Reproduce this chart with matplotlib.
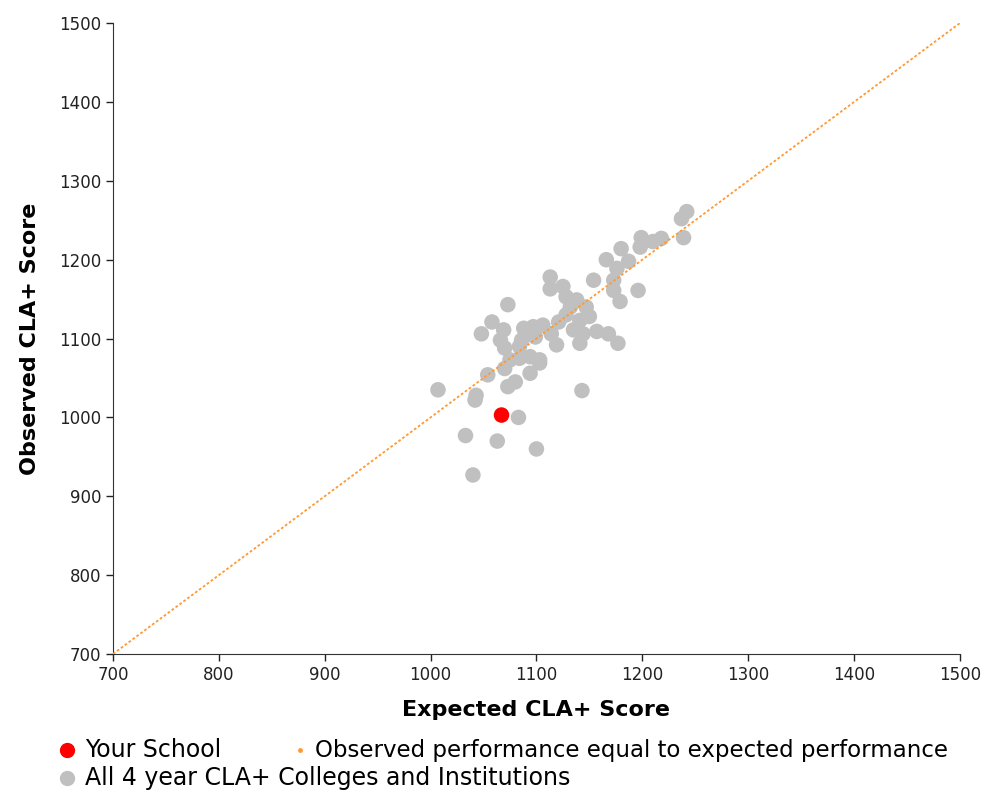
import numpy as np
import matplotlib.pyplot as plt
from matplotlib.lines import Line2D

# expected vs observed CLA+ scores
expected = [1242, 1237, 1239, 1199, 1198, 1218, 1210, 1180, 1166, 1187,
            1176, 1154, 1173, 1173, 1179, 1196, 1113, 1113, 1125, 1128,
            1138, 1132, 1147, 1150, 1141, 1128, 1073, 1058, 1048, 1069,
            1066, 1070, 1088, 1097, 1106, 1086, 1099, 1114, 1121, 1119,
            1141, 1144, 1157, 1168, 1177, 1135, 1084, 1075, 1084, 1094,
            1103, 1070, 1094, 1103, 1054, 1073, 1080, 1007, 1043, 1042,
            1143, 1083, 1033, 1063, 1100, 1040]
observed = [1261, 1252, 1228, 1228, 1216, 1227, 1223, 1214, 1200, 1198,
            1189, 1174, 1174, 1161, 1147, 1161, 1178, 1163, 1166, 1153,
            1149, 1140, 1140, 1128, 1123, 1130, 1143, 1121, 1106, 1111,
            1098, 1088, 1113, 1115, 1117, 1098, 1102, 1106, 1121, 1092,
            1094, 1106, 1109, 1106, 1094, 1111, 1090, 1073, 1075, 1077,
            1073, 1062, 1056, 1069, 1054, 1039, 1045, 1035, 1028, 1022,
            1034, 1000, 977, 970, 960, 927]
school_expected = [1067]
school_observed = [1003]
line_range = [700, 1500]
ticks = [700, 800, 900, 1000, 1100, 1200, 1300, 1400, 1500]

plt.rcParams['font.family'] = ['DejaVu Sans']

fig = plt.figure(figsize=(9.87, 7.95), dpi=100)
ax = fig.add_axes([0.1145, 0.1774, 0.858, 0.7935])

ax.plot(line_range, line_range, color='#FF9933', lw=1.3,
        linestyle=(0, (1.5, 1.2)), zorder=3)
ax.scatter(expected, observed, s=125, color='#C0C0C0', edgecolors='none', zorder=2)
ax.scatter(school_expected, school_observed, s=125, color='#FF0000',
           edgecolors='none', zorder=4)

ax.set_xlim(700, 1500)
ax.set_ylim(700, 1500)
ax.set_xticks(ticks)
ax.set_yticks(ticks)
ax.tick_params(direction='out', length=5, width=1, labelsize=12, colors='#222222')
for s in ['top', 'right']:
    ax.spines[s].set_visible(False)
for s in ['left', 'bottom']:
    ax.spines[s].set_color('#333333')

ax.set_xlabel('Expected CLA+ Score', fontsize=16, fontweight='bold', labelpad=12)
ax.set_ylabel('Observed CLA+ Score', fontsize=16, fontweight='bold', labelpad=14)

# legend, laid out like the original
fig.add_artist(Line2D([67 / 987], [1 - 750 / 795], marker='o', color='#FF0000',
                      markersize=10, linestyle='none', transform=fig.transFigure))
fig.text(85 / 987, 1 - 750 / 795, 'Your School', fontsize=17, va='center')
fig.add_artist(Line2D([300 / 987], [1 - 750 / 795], marker='o', color='#FF9933',
                      markersize=2.5, linestyle='none', transform=fig.transFigure))
fig.text(315 / 987, 1 - 750 / 795,
         'Observed performance equal to expected performance', fontsize=16.5, va='center')
fig.add_artist(Line2D([67 / 987], [1 - 778 / 795], marker='o', color='#C0C0C0',
                      markersize=10, linestyle='none', transform=fig.transFigure))
fig.text(85 / 987, 1 - 778 / 795, 'All 4 year CLA+ Colleges and Institutions',
         fontsize=17, va='center')

fig.savefig('out.png', dpi=100)
